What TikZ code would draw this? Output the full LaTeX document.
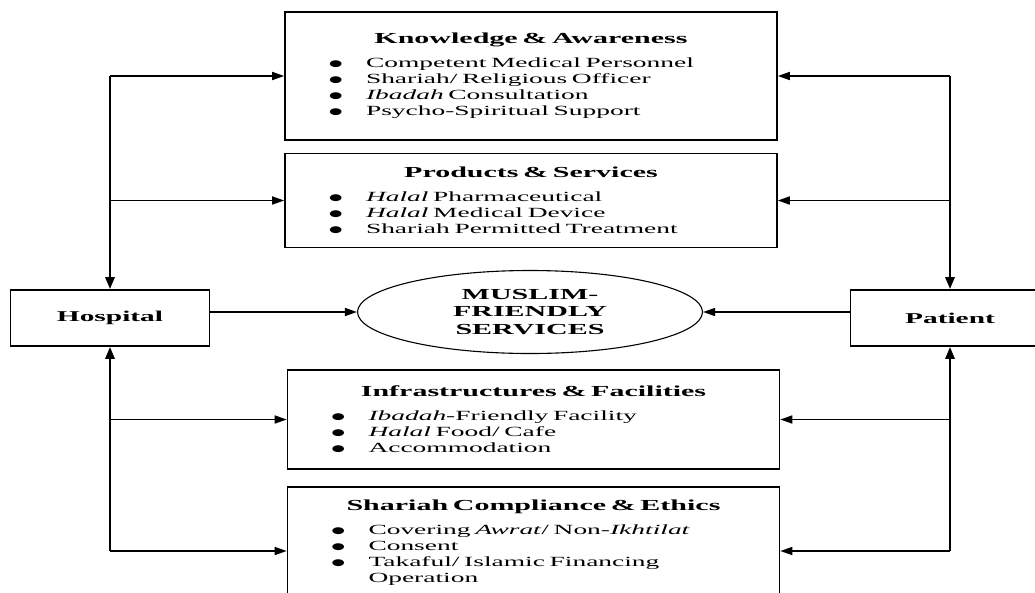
\documentclass[tikz,border=0pt]{standalone}
\usepackage{fontspec}
\setmainfont{Liberation Serif}[FakeStretch=1.96]
\newfontfamily\dotfont{DejaVu Sans}[FakeStretch=1.7]
\usetikzlibrary{shapes,arrows.meta}
\tikzset{
        part/.style={draw, line width=1.6pt, text width=404pt, inner xsep=44pt, inner ysep=0pt, align=left, font=\fontsize{14}{16}\selectfont},
        actor/.style={draw, line width=1.6pt, minimum width=199, minimum height=56, font=\bfseries\fontsize{15}{16}\selectfont},
        core/.style={draw, ellipse, line width=1.1pt, minimum width=345, minimum height=83, align=center, font=\bfseries\fontsize{15.3}{17.5}\selectfont},
        link/.style={-{Triangle[length=12pt,width=8pt]}, line width=1.6pt},
        trunk/.style={-{Triangle[length=12pt,width=9pt]}, line width=2.8pt}
    }
\newcommand\point[1]{\par\noindent\makebox[37pt][l]{\raisebox{1pt}{\dotfont\fontsize{9}{16}\selectfont ●}}\parbox[t]{364pt}{\raggedright #1}}
\newcommand\head[1]{\centerline{\bfseries\fontsize{15.3}{16}\selectfont #1}\vskip 8pt}

\begin{document}
\begin{tikzpicture}[x=1pt, y=-1pt]
            \useasboundingbox (0,0) rectangle (1035,592);
            \clip (0,0) rectangle (1035,592);

            \node [part, minimum height=128] (know)  at (531, 76)    {\head{Knowledge \& Awareness}
                \point{Competent Medical Personnel}
                \point{Shariah/ Religious Officer}
                \point{\emph{Ibadah} Consultation}
                \point{Psycho-Spiritual Support}};
            \node [part, minimum height=94]  (prod)  at (531, 200.5) {\head{Products \& Services}
                \point{\emph{Halal} Pharmaceutical}
                \point{\emph{Halal} Medical Device}
                \point{Shariah Permitted Treatment}};
            \node [part, minimum height=99]  (infra) at (533.5, 419.5) {\head{Infrastructures \& Facilities}
                \point{\emph{Ibadah}-Friendly Facility}
                \point{\emph{Halal} Food/ Cafe}
                \point{Accommodation}};
            \node [part, minimum height=112] (shar)  at (533.5, 543) {\head{Shariah Compliance \& Ethics}
                \point{Covering \emph{Awrat}/ Non-\emph{Ikhtilat}}
                \point{Consent}
                \point{Takaful/ Islamic Financing\\Operation}};

            \node [actor] (hosp) at (110, 318) {Hospital};
            \node [actor] (pat)  at (950, 318) {Patient};
            \node [core]  (msf)  at (530, 312) {MUSLIM-\\FRIENDLY\\SERVICES};

            \coordinate (sharL) at ([yshift=-8pt]shar.west);
            \coordinate (sharR) at ([yshift=-8pt]shar.east);

            \draw [trunk] (hosp.north |- know.west) -- (hosp.north);
            \draw [link] (hosp.north |- know.west) -- (know.west);
            \draw [link] (hosp.north |- prod.west) -- (prod.west);
            \draw [trunk] (hosp.south |- sharL) -- (hosp.south);
            \draw [link] (hosp.south |- infra.west) -- (infra.west);
            \draw [link] (hosp.south |- sharL) -- (sharL);

            \draw [trunk] (pat.north |- know.east) -- (pat.north);
            \draw [link] (pat.north |- know.east) -- (know.east);
            \draw [link] (pat.north |- prod.east) -- (prod.east);
            \draw [trunk] (pat.south |- sharR) -- (pat.south);
            \draw [link] (pat.south |- infra.east) -- (infra.east);
            \draw [link] (pat.south |- sharR) -- (sharR);

            \draw [link] (hosp.east |- msf.west) -- (msf.west);
            \draw [link] (pat.west |- msf.east) -- (msf.east);
        \end{tikzpicture}
\end{document}
